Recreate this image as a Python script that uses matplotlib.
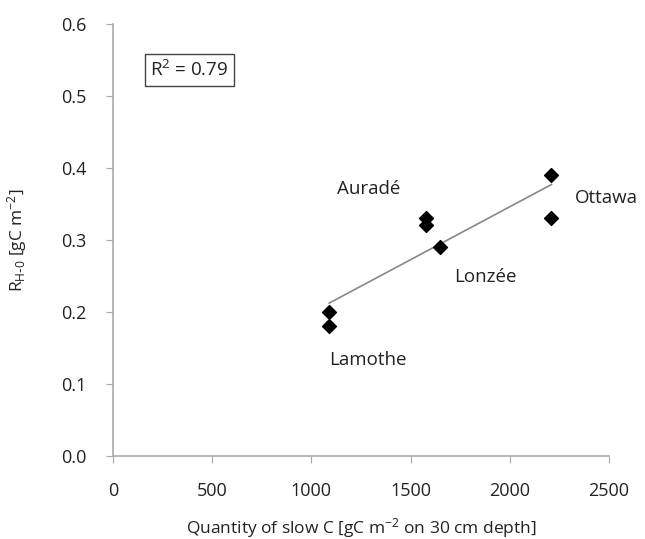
import matplotlib
matplotlib.use("Agg")
import matplotlib.pyplot as plt
import numpy as np

slow_c = [1090, 1090, 1580, 1580, 1650, 2210, 2210]
rh0 = [0.20, 0.18, 0.33, 0.32, 0.29, 0.39, 0.33]
site_names = ["Auradé", "Ottawa", "Lonzée", "Lamothe"]
site_label_pos = [(1130, 0.37), (2330, 0.358), (1720, 0.248), (1090, 0.133)]
x_ticks = [0, 500, 1000, 1500, 2000, 2500]
y_ticks = [0.0, 0.1, 0.2, 0.3, 0.4, 0.5, 0.6]

plt.rcParams['font.family'] = ['Open Sans', 'DejaVu Sans']
plt.rcParams['mathtext.default'] = 'regular'

fig = plt.figure(figsize=(6.45, 5.39), dpi=100)
ax = fig.add_axes([0.1752, 0.1549, 0.769, 0.8006])

ax.scatter(slow_c, rh0, marker='D', s=50, color='black', zorder=3)

coef = np.polyfit(slow_c, rh0, 1)
xs = np.array([min(slow_c), max(slow_c)])
ax.plot(xs, np.polyval(coef, xs), color='#888888', lw=1.2, zorder=2)

fs_lab = 13.5
for name, (lx, ly) in zip(site_names, site_label_pos):
    ax.text(lx, ly, name, fontsize=fs_lab, ha='left', va='center', color='#222222')

ax.text(0.075, 0.893, "R$^2$ = 0.79", transform=ax.transAxes, fontsize=fs_lab,
        ha='left', va='center', color='#222222',
        bbox=dict(boxstyle='square,pad=0.3', fc='white', ec='#444444', lw=1.0))

ax.set_xlim(0, 2500)
ax.set_ylim(0, 0.6)
ax.set_xticks(x_ticks)
ax.set_yticks(y_ticks)
ax.set_yticklabels([f"{v:.1f}" for v in y_ticks])
for s in ['top', 'right']:
    ax.spines[s].set_visible(False)
for s in ['left', 'bottom']:
    ax.spines[s].set_color('#aaaaaa')
    ax.spines[s].set_linewidth(1.2)
ax.tick_params(direction='out', length=5, color='#aaaaaa', labelsize=13,
               labelcolor='#222222', pad=14)

ax.set_xlabel("Quantity of slow C [gC m$^{-2}$ on 30 cm depth]", fontsize=12.5,
              color='#222222', labelpad=12)
ax.set_ylabel("R$_{H\\text{-}0}$ [gC m$^{-2}$]", fontsize=12.5, color='#222222')
ax.yaxis.set_label_coords(-0.17, 0.5)

fig.savefig("out.png", dpi=100)
